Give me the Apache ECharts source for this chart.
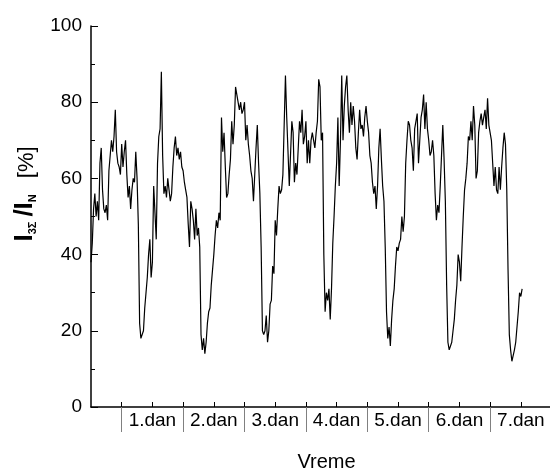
<!DOCTYPE html>
<html><head><meta charset="utf-8">
<script src="https://cdn.jsdelivr.net/npm/echarts@6/dist/echarts.min.js"></script>
<style>html,body{margin:0;padding:0;background:#fff}#c{width:550px;height:469px}</style>
</head><body><div id="c"></div>
<script>
// sampling step of the series, in hours (x axis is time in hours)
const STEP_H = 0.5;
const dan1 = [38,43,52,56,50,54,49,64,68,57,52,51,53,49,62,66,70,67,71,78,67,64,63,61,69,63,67,70,61,55,58,52,57,60,59,67,60,48,22,18,18,20,26,30,34,40,44,34];
const dan2 = [38,58,51,44,64,71,73,88,66,56,58,55,60,57,54,56,63,68,71,66,68,65,67,63,62,59,57,55,48,42,54,52,49,44,52,45,47,42,19,15,18,14,17,22,25,26,32,36];
const dan3 = [40,45,49,47,51,49,76,67,72,63,55,56,61,65,75,69,74,84,82,82,78,80,77,78,80,70,74,69,66,62,60,54,61,68,74,64,56,42,20,19,20,24,17,20,27,28,37,35];
const dan4 = [49,45,52,58,56,57,61,74,87,76,67,58,58,75,72,59,64,61,68,75,72,78,69,71,75,64,70,64,70,72,70,68,72,75,86,84,70,72,40,25,30,28,31,23,31,43,50,58];
const dan5 = [64,76,58,70,87,70,79,84,87,78,72,80,74,79,75,68,65,72,78,73,74,71,76,79,75,72,66,64,59,56,58,52,58,68,73,65,58,54,42,25,18,21,16,23,28,31,37,42];
const dan6 = [41,43,44,50,46,50,64,70,75,74,70,68,62,73,75,77,64,70,76,78,82,73,80,73,70,66,67,70,66,56,49,53,51,58,66,74,65,54,32,17,15,15,17,20,23,28,32,40];
const dan7 = [38,33,42,50,57,60,64,71,70,75,70,79,74,60,62,72,75,77,74,76,78,73,81,74,74,70,64,58,63,57,56,63,57,63,68,72,69,57,36,19,15,12,12,15,17,21,25,30,29,31];
const dayLabels = ['1.dan','2.dan','3.dan','4.dan','5.dan','6.dan','7.dan'];
const yMin = 0, yMax = 100, yStep = 20;
const xMaxHours = 179.4;

const values = [].concat(dan1, dan2, dan3, dan4, dan5, dan6, dan7);
const data = values.map((v, i) => [i * STEP_H, v]);
const labelHours = dayLabels.map((_, k) => 24 * (k + 1));
const sepHours = dayLabels.map((_, k) => 12 + 24 * k);
const tickHours = [];
for (let h = 12; h <= 24 * dayLabels.length; h += 12) tickHours.push(h);

const F = '"Liberation Sans", Arial, sans-serif';
const chart = echarts.init(document.getElementById('c'), null, {renderer: 'canvas'});
chart.setOption({
  animation: false,
  backgroundColor: '#fff',
  textStyle: {fontFamily: F, color: '#000'},
  grid: {left: 91, right: 0, top: 26, bottom: 62, containLabel: false, outerBoundsMode: 'none'},
  xAxis: [{
    type: 'value', min: 0, max: xMaxHours, position: 'bottom',
    axisLine: {show: true, onZero: false, lineStyle: {color: '#000', width: 1.5}},
    axisTick: {show: true, inside: true, length: 5, customValues: tickHours, lineStyle: {color: '#000', width: 1}},
    axisLabel: {customValues: labelHours, formatter: v => dayLabels[Math.round(v / 24) - 1] || '',
      fontSize: 19, color: '#000', fontFamily: F, margin: 4},
    splitLine: {show: false},
    name: 'Vreme', nameLocation: 'middle', nameGap: 45,
    nameTextStyle: {fontSize: 20, color: '#000', fontFamily: F, padding: [0, 0, 0, 12]}
  }, {
    type: 'value', min: 0, max: xMaxHours, position: 'bottom', offset: 2,
    axisLine: {show: false},
    axisTick: {show: true, inside: false, length: 25, customValues: sepHours, lineStyle: {color: '#808080', width: 1}},
    axisLabel: {show: false},
    splitLine: {show: false}
  }],
  yAxis: {
    type: 'value', min: yMin, max: yMax, interval: yStep,
    axisLine: {show: true, lineStyle: {color: '#000', width: 1.5}},
    axisTick: {show: true, inside: true, length: 7, lineStyle: {color: '#000', width: 1}},
    minorTick: {show: true, splitNumber: 2, length: 4, lineStyle: {color: '#000', width: 1}},
    axisLabel: {fontSize: 19, color: '#000', fontFamily: F, margin: 9},
    splitLine: {show: false},
    name: '{b|I}{s|3Σ}{b|/I}{n|N}{p|[%]}',
    nameLocation: 'middle', nameRotate: 90, nameGap: 53,
    nameTextStyle: {
      padding: [0, 0, 0, 45],
      rich: {
        b: {fontSize: 26, fontWeight: 'bold', fontFamily: F, color: '#000', verticalAlign: 'bottom'},
        s: {fontSize: 11, fontWeight: 'bold', fontFamily: F, color: '#000', verticalAlign: 'bottom', padding: [0, 5, 0, 0]},
        n: {fontSize: 11, fontWeight: 'bold', fontFamily: F, color: '#000', verticalAlign: 'bottom', padding: [0, 16, 0, 0]},
        p: {fontSize: 22, fontFamily: F, color: '#000', verticalAlign: 'bottom'}
      }
    }
  },
  series: [{
    type: 'line', xAxisIndex: 0, data: data, showSymbol: false, symbol: 'none',
    lineStyle: {color: '#000', width: 1.2}, clip: true
  }]
});
</script>
</body></html>
